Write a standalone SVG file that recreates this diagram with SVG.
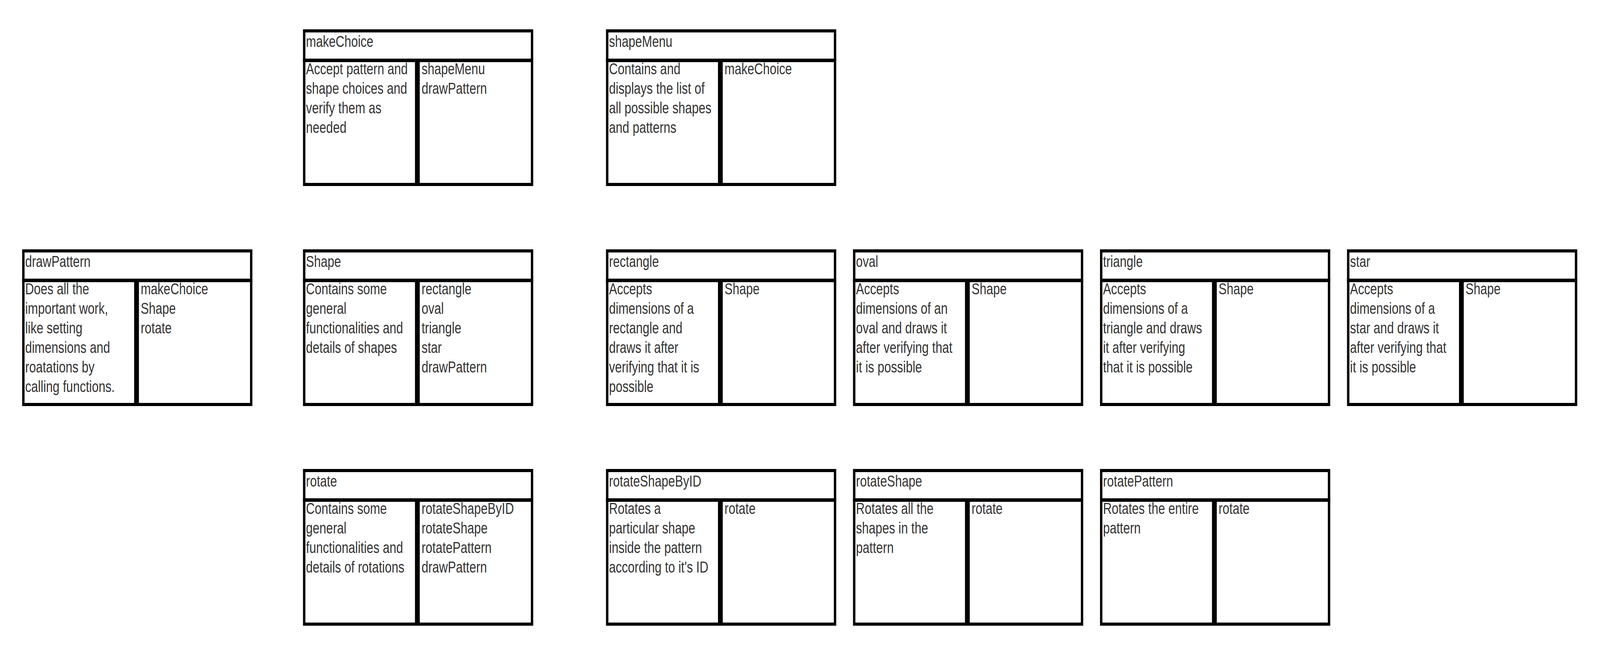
<svg xmlns="http://www.w3.org/2000/svg" width="5344" height="1676" viewBox="0 0 5344 1676" preserveAspectRatio="none" style="width:100vw;height:100vh;display:block">
<style>
.frame{fill:#ffffff;stroke:#000000;stroke-width:8}
.bar{fill:#000000}
text{font-family:"Liberation Sans",Arial,sans-serif;font-size:40.5px;fill:#333333}
</style>
<defs>
<g id="card">
<rect class="frame" x="4" y="4" width="761" height="393"/>
<rect class="bar" x="0" y="75" width="769" height="9"/>
<rect class="bar" x="374" y="84" width="16" height="317"/>
</g>
</defs>
<rect width="5344" height="1676" fill="#ffffff"/>
<g id="connectors"/>
<g id="makeChoice" transform="translate(1012,75)">
<use href="#card"/>
<text x="10" y="45">makeChoice</text>
<text x="10" y="115">Accept pattern and</text>
<text x="10" y="165">shape choices and</text>
<text x="10" y="215">verify them as</text>
<text x="10" y="265">needed</text>
<text x="396" y="115">shapeMenu</text>
<text x="396" y="165">drawPattern</text>
</g>
<g id="shapeMenu" transform="translate(2024,75)">
<use href="#card"/>
<text x="10" y="45">shapeMenu</text>
<text x="10" y="115">Contains and</text>
<text x="10" y="165">displays the list of</text>
<text x="10" y="215">all possible shapes</text>
<text x="10" y="265">and patterns</text>
<text x="396" y="115">makeChoice</text>
</g>
<g id="drawPattern" transform="translate(74,638)">
<use href="#card"/>
<text x="10" y="45">drawPattern</text>
<text x="10" y="115">Does all the</text>
<text x="10" y="165">important work,</text>
<text x="10" y="215">like setting</text>
<text x="10" y="265">dimensions and</text>
<text x="10" y="315">roatations by</text>
<text x="10" y="365">calling functions.</text>
<text x="396" y="115">makeChoice</text>
<text x="396" y="165">Shape</text>
<text x="396" y="215">rotate</text>
</g>
<g id="Shape" transform="translate(1012,638)">
<use href="#card"/>
<text x="10" y="45">Shape</text>
<text x="10" y="115">Contains some</text>
<text x="10" y="165">general</text>
<text x="10" y="215">functionalities and</text>
<text x="10" y="265">details of shapes</text>
<text x="396" y="115">rectangle</text>
<text x="396" y="165">oval</text>
<text x="396" y="215">triangle</text>
<text x="396" y="265">star</text>
<text x="396" y="315">drawPattern</text>
</g>
<g id="rectangle" transform="translate(2024,638)">
<use href="#card"/>
<text x="10" y="45">rectangle</text>
<text x="10" y="115">Accepts</text>
<text x="10" y="165">dimensions of a</text>
<text x="10" y="215">rectangle and</text>
<text x="10" y="265">draws it after</text>
<text x="10" y="315">verifying that it is</text>
<text x="10" y="365">possible</text>
<text x="396" y="115">Shape</text>
</g>
<g id="oval" transform="translate(2849,638)">
<use href="#card"/>
<text x="10" y="45">oval</text>
<text x="10" y="115">Accepts</text>
<text x="10" y="165">dimensions of an</text>
<text x="10" y="215">oval and draws it</text>
<text x="10" y="265">after verifying that</text>
<text x="10" y="315">it is possible</text>
<text x="396" y="115">Shape</text>
</g>
<g id="triangle" transform="translate(3674,638)">
<use href="#card"/>
<text x="10" y="45">triangle</text>
<text x="10" y="115">Accepts</text>
<text x="10" y="165">dimensions of a</text>
<text x="10" y="215">triangle and draws</text>
<text x="10" y="265">it after verifying</text>
<text x="10" y="315">that it is possible</text>
<text x="396" y="115">Shape</text>
</g>
<g id="star" transform="translate(4499,638)">
<use href="#card"/>
<text x="10" y="45">star</text>
<text x="10" y="115">Accepts</text>
<text x="10" y="165">dimensions of a</text>
<text x="10" y="215">star and draws it</text>
<text x="10" y="265">after verifying that</text>
<text x="10" y="315">it is possible</text>
<text x="396" y="115">Shape</text>
</g>
<g id="rotate" transform="translate(1012,1200)">
<use href="#card"/>
<text x="10" y="45">rotate</text>
<text x="10" y="115">Contains some</text>
<text x="10" y="165">general</text>
<text x="10" y="215">functionalities and</text>
<text x="10" y="265">details of rotations</text>
<text x="396" y="115">rotateShapeByID</text>
<text x="396" y="165">rotateShape</text>
<text x="396" y="215">rotatePattern</text>
<text x="396" y="265">drawPattern</text>
</g>
<g id="rotateShapeByID" transform="translate(2024,1200)">
<use href="#card"/>
<text x="10" y="45">rotateShapeByID</text>
<text x="10" y="115">Rotates a</text>
<text x="10" y="165">particular shape</text>
<text x="10" y="215">inside the pattern</text>
<text x="10" y="265">according to it's ID</text>
<text x="396" y="115">rotate</text>
</g>
<g id="rotateShape" transform="translate(2849,1200)">
<use href="#card"/>
<text x="10" y="45">rotateShape</text>
<text x="10" y="115">Rotates all the</text>
<text x="10" y="165">shapes in the</text>
<text x="10" y="215">pattern</text>
<text x="396" y="115">rotate</text>
</g>
<g id="rotatePattern" transform="translate(3674,1200)">
<use href="#card"/>
<text x="10" y="45">rotatePattern</text>
<text x="10" y="115">Rotates the entire</text>
<text x="10" y="165">pattern</text>
<text x="396" y="115">rotate</text>
</g>
</svg>
